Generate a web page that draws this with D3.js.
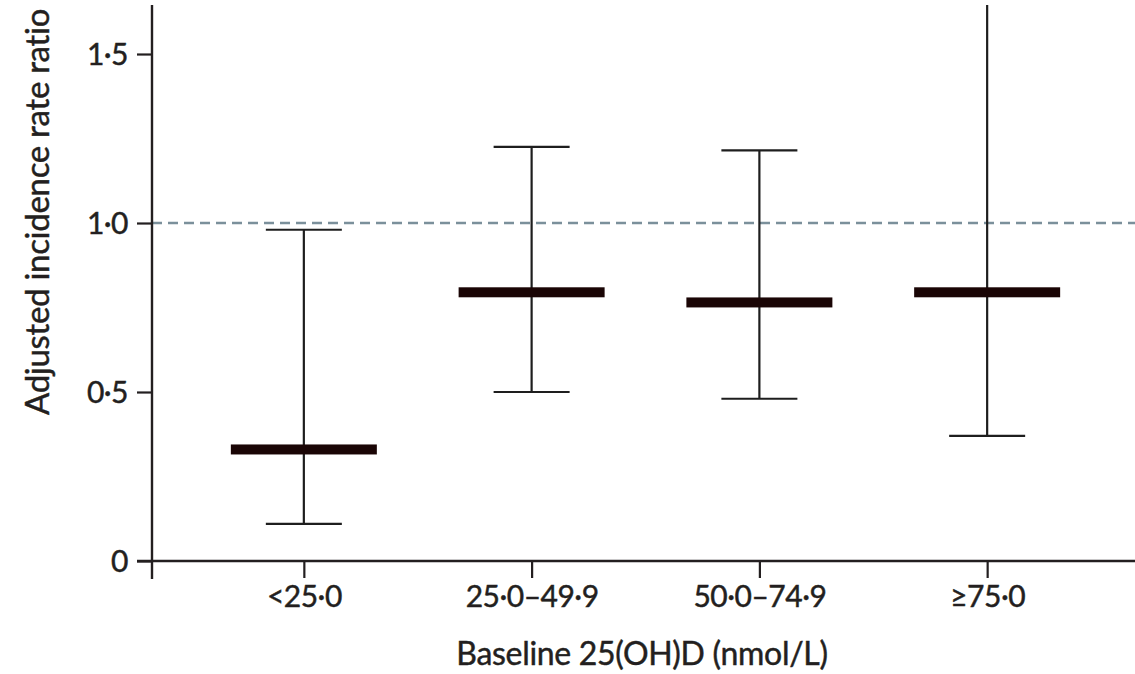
<!DOCTYPE html>
<html><head><meta charset="utf-8">
<script src="https://cdn.jsdelivr.net/npm/d3@7"></script>
<style>
html,body{margin:0;padding:0;background:#fff;}
svg{display:block;}
text{font-family:Lato,"Open Sans",sans-serif;fill:#231f20;stroke:#231f20;stroke-width:0.45px;}
</style></head>
<body>
<svg id="chart" width="1135" height="674"></svg>
<script>
const categories = ["<25·0", "25·0–49·9", "50·0–74·9", "≥75·0"];
const estimate = [0.33, 0.795, 0.765, 0.795];
const lower = [0.11, 0.50, 0.48, 0.37];
const upper = [0.98, 1.225, 1.215, 1.90];
const yTicks = [0, 0.5, 1.0, 1.5];
const refLine = 1.0;
const yTitle = "Adjusted incidence rate ratio";
const xTitle = "Baseline 25(OH)D (nmol/L)";

const svg = d3.select("#chart");
const x0 = 152, x1 = 1139, yBottom = 561, yTop = 5;
const y = d3.scaleLinear().domain([0, 1.645]).range([yBottom, yTop]);
const x = d3.scalePoint().domain(categories).range([x0, x1]).padding(2/3);

svg.append("defs").append("clipPath").attr("id","plot")
  .append("rect").attr("x", x0).attr("y", yTop).attr("width", 1135 - x0).attr("height", yBottom - yTop);

const fmt = v => v === 0 ? "0" : d3.format(".1f")(v).replace(".", "·");

// reference line
svg.append("line")
  .attr("x1", x0).attr("x2", 1135)
  .attr("y1", y(refLine)).attr("y2", y(refLine))
  .attr("stroke", "#7b909b").attr("stroke-width", 2.4)
  .attr("stroke-dasharray", "10,6");

// Y axis
const yAxis = svg.append("g").attr("transform", `translate(${x0},0)`)
  .call(d3.axisLeft(y).tickValues(yTicks).tickFormat(fmt).tickSize(15).tickPadding(9));
yAxis.select(".domain").remove();
yAxis.selectAll(".tick line").attr("stroke", "#231f20").attr("stroke-width", 2.2);
yAxis.selectAll(".tick text").style("font-size", "30px").style("letter-spacing", "-0.5px").attr("dy", "0.35em");
svg.append("line").attr("x1", x0).attr("x2", x0).attr("y1", yTop).attr("y2", yBottom + 18)
  .attr("stroke", "#231f20").attr("stroke-width", 2.4);

// X axis
const xAxis = svg.append("g").attr("transform", `translate(0,${yBottom})`)
  .call(d3.axisBottom(x).tickSize(17).tickPadding(8));
xAxis.select(".domain").remove();
xAxis.selectAll(".tick line").attr("stroke", "#231f20").attr("stroke-width", 2.2);
xAxis.selectAll(".tick text").style("font-size", "30px").style("letter-spacing", "-0.5px");
svg.append("line").attr("x1", 137).attr("x2", 1135).attr("y1", yBottom).attr("y2", yBottom)
  .attr("stroke", "#231f20").attr("stroke-width", 2.4);

// error bars
const g = svg.append("g").attr("clip-path", "url(#plot)");
const data = categories.map((c, i) => ({c, est: estimate[i], lo: lower[i], hi: upper[i]}));
const capHalf = 38, barHalf = 73;
g.selectAll("line.v").data(data).join("line").attr("class","v")
  .attr("x1", d => x(d.c)).attr("x2", d => x(d.c))
  .attr("y1", d => y(d.lo)).attr("y2", d => y(d.hi))
  .attr("stroke", "#1e1e1e").attr("stroke-width", 2.2);
g.selectAll("line.lo").data(data).join("line").attr("class","lo")
  .attr("x1", d => x(d.c) - capHalf).attr("x2", d => x(d.c) + capHalf)
  .attr("y1", d => y(d.lo)).attr("y2", d => y(d.lo))
  .attr("stroke", "#1e1e1e").attr("stroke-width", 2.2);
g.selectAll("line.hi").data(data).join("line").attr("class","hi")
  .attr("x1", d => x(d.c) - capHalf).attr("x2", d => x(d.c) + capHalf)
  .attr("y1", d => y(d.hi)).attr("y2", d => y(d.hi))
  .attr("stroke", "#1e1e1e").attr("stroke-width", 2.2);
g.selectAll("rect.est").data(data).join("rect").attr("class","est")
  .attr("x", d => x(d.c) - barHalf).attr("width", barHalf * 2)
  .attr("y", d => y(d.est) - 5).attr("height", 10)
  .attr("fill", "#1a0505");

// titles
svg.append("text").attr("transform", `translate(49,212) rotate(-90)`)
  .attr("text-anchor", "middle").style("font-size", "33px").style("letter-spacing", "-0.3px").text(yTitle);
svg.append("text").attr("x", 642).attr("y", 665)
  .attr("text-anchor", "middle").style("font-size", "32px").style("letter-spacing", "-0.3px").text(xTitle);
</script>
</body></html>
